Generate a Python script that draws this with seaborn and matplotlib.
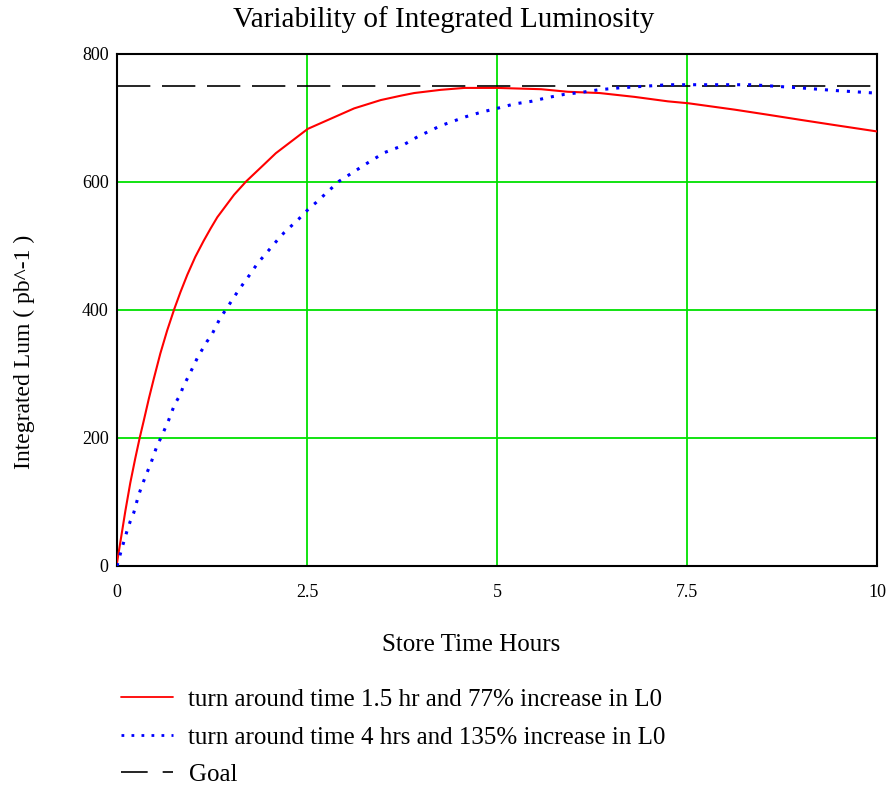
import matplotlib
matplotlib.use("Agg")
import matplotlib.pyplot as plt
from matplotlib.lines import Line2D
import seaborn as sns
import pandas as pd

# ---- data ----
red_x = [0.0, 0.045, 0.11, 0.175, 0.24, 0.30, 0.35, 0.42, 0.485, 0.57, 0.66, 0.755,
         0.835, 0.925, 1.03, 1.14, 1.23, 1.32, 1.54, 1.70, 1.94, 2.09, 2.51, 3.12,
         3.47, 3.74, 3.91, 4.26, 4.57, 5.0, 5.58, 5.93, 6.35, 6.81, 7.25, 7.52, 8.13,
         8.57, 9.0, 9.44, 10.0]
red_y = [5, 38, 86, 130, 168, 201, 226, 262, 293, 332, 368, 402,
         428, 455, 483, 508, 527, 545, 580, 601, 628, 645, 683, 715,
         728, 735, 739, 744, 747, 747, 745, 741, 739, 733, 726, 723, 713,
         705, 697, 689, 679]

blue_x = [0.0, 0.065, 0.13, 0.175, 0.22, 0.28, 0.32, 0.365, 0.45, 0.53, 0.585, 0.68,
          0.76, 0.83, 0.87, 0.96, 1.065, 1.18, 1.25, 1.36, 1.43, 1.49, 1.60, 1.74,
          1.85, 1.98, 2.13, 2.20, 2.39, 2.53, 2.62, 2.92, 3.30, 3.52, 3.74, 3.96,
          4.26, 4.59, 4.79, 5.0, 5.23, 5.45, 5.67, 5.89, 6.11, 6.33, 6.60, 7.25,
          7.52, 7.9, 8.35, 9.0, 9.44, 9.97]
blue_y = [0, 28, 54, 70, 83, 109, 123, 137, 162, 189, 202, 228,
          253, 267, 280, 301, 327, 350, 362, 388, 400, 411, 431, 454,
          473, 491, 512, 521, 542, 559, 568, 601, 630, 646, 656, 671,
          688, 702, 709, 715, 722, 726, 732, 737, 740, 744, 747, 752,
          752, 752, 752, 747, 743, 739]

goal_x = [0.0, 10.0]
goal_y = [750, 750]

x_ticks = [0, 2.5, 5, 7.5, 10]
x_tick_labels = ["0", "2.5", "5", "7.5", "10"]
y_ticks = [0, 200, 400, 600, 800]

title = "Variability of Integrated Luminosity"
xlabel = "Store Time Hours"
ylabel = "Integrated Lum ( pb^-1 )"
labels = ["turn around time 1.5 hr and 77% increase in L0",
          "turn around time 4 hrs and 135% increase in L0",
          "Goal"]

# ---- plotting ----
sns.set_style("white")
plt.rcParams["font.family"] = ["Liberation Serif", "DejaVu Serif"]
plt.rcParams["text.color"] = "black"
plt.rcParams["axes.labelcolor"] = "black"

fig = plt.figure(figsize=(8.9, 7.85), dpi=100)
L, R, T, B = 117, 877, 54, 566
ax = fig.add_axes([L / 890, 1 - B / 785, (R - L) / 890, (B - T) / 785])

red_df = pd.DataFrame({"x": red_x, "y": red_y})
blue_df = pd.DataFrame({"x": blue_x, "y": blue_y})
goal_df = pd.DataFrame({"x": goal_x, "y": goal_y})

red_c = "#ff0000"
blue_c = "#0000ff"
grid_c = "#00e000"

sns.lineplot(data=goal_df, x="x", y="y", ax=ax, color="black", lw=1.2, zorder=3)
ax.lines[-1].set_dashes((20, 7))
sns.lineplot(data=red_df, x="x", y="y", ax=ax, color=red_c, lw=1.5, zorder=4)
sns.lineplot(data=blue_df, x="x", y="y", ax=ax, color=blue_c, lw=2.2, zorder=4)
ax.lines[-1].set_dashes((1, 2.6))

ax.set_xlim(0, 10)
ax.set_ylim(0, 800)
ax.set_xticks(x_ticks)
ax.set_xticklabels(x_tick_labels)
ax.set_yticks(y_ticks)
ax.grid(True, color=grid_c, lw=1.3, zorder=1)
ax.set_axisbelow(True)
for s in ax.spines.values():
    s.set_color("black")
    s.set_linewidth(1.5)
ax.tick_params(axis="both", length=0, labelsize=13, colors="black")
ax.tick_params(axis="x", pad=13)
ax.tick_params(axis="y", pad=6)

W, H = R - L, B - T
ax.set_xlabel(xlabel, fontsize=18, color="black")
ax.xaxis.set_label_coords((471 - L) / W, (B - 645) / H)
ax.xaxis.label.set_va("center")
ax.set_ylabel(ylabel, fontsize=17, color="black")
ax.yaxis.set_label_coords((24 - L) / W, (B - 352) / H)
ax.yaxis.label.set_va("center")

fig.text(444 / 890, 1 - 20 / 785, title, ha="center", va="center",
         fontsize=21, color="black")

handles = [
    Line2D([], [], color=red_c, lw=1.3),
    Line2D([], [], color=blue_c, lw=2.0, dashes=(1, 2.6)),
    Line2D([], [], color="black", lw=1.2, dashes=(16, 9)),
]
fig.legend(handles, labels, loc="upper left",
           bbox_to_anchor=(98 / 890, 1 - 666 / 785), frameon=False,
           fontsize=18, handlelength=2.08, handletextpad=0.64, labelspacing=0.6)

fig.savefig("out.png", dpi=100, facecolor="white")
